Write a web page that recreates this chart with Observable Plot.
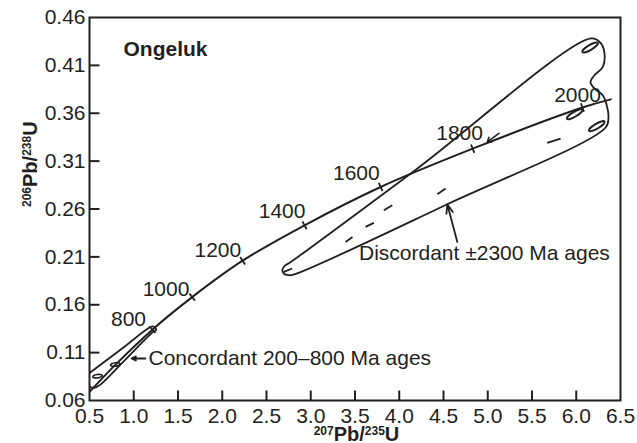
<!DOCTYPE html>
<html>
<head>
<meta charset="utf-8">
<script src="https://cdn.jsdelivr.net/npm/d3@7"></script>
<script src="https://cdn.jsdelivr.net/npm/@observablehq/plot@0.6"></script>
<style>
  html, body { margin: 0; padding: 0; background: #fff; }
</style>
</head>
<body>
<div id="chart"></div>
<script>
// ---------- data ----------
const xTicks = [0.5, 1.0, 1.5, 2.0, 2.5, 3.0, 3.5, 4.0, 4.5, 5.0, 5.5, 6.0, 6.5];
const yTicks = [0.06, 0.11, 0.16, 0.21, 0.26, 0.31, 0.36, 0.41, 0.46];

// concordia curve (Ma, 207Pb/235U, 206Pb/238U)
const concordiaAge = [412, 600, 800, 1000, 1200, 1400, 1600, 1800, 2000, 2040];
const concordiaX   = [0.50, 0.80, 1.21, 1.66, 2.23, 2.93, 3.79, 4.83, 6.07, 6.39];
const concordiaY   = [0.069, 0.098, 0.134, 0.168, 0.206, 0.243, 0.283, 0.323, 0.366, 0.3745];

// age labels along concordia
const ageLabels = [800, 1000, 1200, 1400, 1600, 1800, 2000];
const ageLabelX = [0.941, 1.365, 1.950, 2.676, 3.515, 4.682, 6.014];
const ageLabelY = [0.1444, 0.1757, 0.2164, 0.258, 0.2969, 0.3392, 0.3789];

// concordant 200–800 Ma envelope
const concEnvX = [0.46, 0.50, 0.85, 1.16, 1.21, 1.245, 1.250, 1.22, 0.90, 0.62, 0.57, 0.53, 0.50, 0.46];
const concEnvY = [0.0860, 0.0888, 0.1130, 0.1352, 0.1375, 0.1360, 0.1333, 0.1318, 0.1022, 0.0763, 0.0738, 0.0733, 0.0745, 0.0780];

// discordant ±2300 Ma envelope
const discEnvX = [6.167, 4.165, 2.770, 2.708, 2.680, 2.697, 2.748, 2.804, 4.543, 6.334, 6.364, 6.349, 6.300, 6.206, 6.161, 6.206, 6.300, 6.319, 6.277];
const discEnvY = [0.4381, 0.2995, 0.2044, 0.2008, 0.1966, 0.1924, 0.1909, 0.1914, 0.2650, 0.3454, 0.3562, 0.3666, 0.3788, 0.3858, 0.3927, 0.3997, 0.4084, 0.4224, 0.4332];

// data ellipses
const concEllX = [0.590, 0.791];
const concEllY = [0.0854, 0.0976];
const discEllX = [6.157, 5.983, 6.232];
const discEllY = [0.4287, 0.3590, 0.3465];

// discordia dashes [x1, y1, x2, y2]
const discordiaDashes = [
  [2.695, 0.1943, 2.790, 0.1979],
  [3.393, 0.2256, 3.472, 0.2308],
  [3.619, 0.2413, 3.713, 0.2455],
  [3.826, 0.2587, 3.921, 0.2640],
  [4.430, 0.2755, 4.524, 0.2814],
  [5.672, 0.3290, 5.823, 0.3336]
];
const discordiaHook = [[5.127, 0.3389, 4.996, 0.3301]];

// ---------- layout ----------
const W = 637, H = 443, ML = 89, MR = 17, MT = 17, MB = 43;
const ink = "#231f20";
const kx = (W - ML - MR) / (xTicks[xTicks.length - 1] - xTicks[0]);
const ky = (H - MT - MB) / (yTicks[yTicks.length - 1] - yTicks[0]);

const curve = concordiaX.map((x, i) => ({age: concordiaAge[i], x, y: concordiaY[i]}));
const concEnv = concEnvX.map((x, i) => ({x, y: concEnvY[i]}));
const discEnv = discEnvX.map((x, i) => ({x, y: discEnvY[i]}));
const ageLab = ageLabels.map((t, i) => ({t: String(t), x: ageLabelX[i], y: ageLabelY[i]}));

// custom symbols
function lineSymbol(x1, y1, x2, y2) {
  return {draw(ctx) { ctx.moveTo(x1, y1); ctx.lineTo(x2, y2); }};
}
function ellipseSymbol(rx, ry, deg) {
  const a = deg * Math.PI / 180, c = Math.cos(a), s = Math.sin(a), k = 0.5523;
  const P = ([x, y]) => [x * c - y * s, x * s + y * c];
  const pts = [[rx,0],[rx,ry*k],[rx*k,ry],[0,ry],[-rx*k,ry],[-rx,ry*k],[-rx,0],[-rx,-ry*k],[-rx*k,-ry],[0,-ry],[rx*k,-ry],[rx,-ry*k],[rx,0]].map(P);
  return {draw(ctx) {
    ctx.moveTo(pts[0][0], pts[0][1]);
    for (let i = 1; i < pts.length; i += 3)
      ctx.bezierCurveTo(pts[i][0], pts[i][1], pts[i+1][0], pts[i+1][1], pts[i+2][0], pts[i+2][1]);
    ctx.closePath();
  }};
}

// concordia age ticks (perpendicular to the curve)
const ageTickMarks = ageLabels.map(age => {
  const i = concordiaAge.indexOf(age);
  const p = curve[i], a = curve[i - 1], b = curve[i + 1];
  const ang = Math.atan2(-(b.y - a.y) * ky, (b.x - a.x) * kx) + Math.PI / 2;
  const h = 4.5, dx = Math.cos(ang) * h, dy = Math.sin(ang) * h;
  return Plot.dot([p], {x: "x", y: "y", symbol: lineSymbol(-dx, -dy, dx, dy), fill: "none", stroke: ink, strokeWidth: 1.8});
});

const innerX = xTicks.slice(1, -1);
const innerY = yTicks.slice(1, -1);

const chart = Plot.plot({
  width: W, height: H,
  marginLeft: ML, marginRight: MR, marginTop: MT, marginBottom: MB,
  style: {fontFamily: "'Liberation Sans', Arial, Helvetica, sans-serif", fontSize: "21px", color: ink, background: "#fff"},
  x: {domain: [xTicks[0], xTicks[xTicks.length - 1]], ticks: xTicks, tickFormat: d3.format(".1f"), tickSize: 0, tickPadding: 8, label: null},
  y: {domain: [yTicks[0], yTicks[yTicks.length - 1]], ticks: yTicks, tickFormat: d3.format(".2f"), tickSize: 0, tickPadding: 4, label: null},
  marks: [
    // inward axis ticks
    Plot.dot(innerX, {x: d => d, y: yTicks[0], symbol: lineSymbol(0, 0, 0, -10), fill: "none", stroke: ink, strokeWidth: 2}),
    Plot.dot(innerY, {x: xTicks[0], y: d => d, symbol: lineSymbol(0, 0, 10, 0), fill: "none", stroke: ink, strokeWidth: 2}),
    // envelopes
    Plot.line(concEnv, {x: "x", y: "y", curve: "catmull-rom-closed", stroke: ink, strokeWidth: 1.8, clip: true}),
    Plot.line(discEnv, {x: "x", y: "y", curve: "catmull-rom-closed", stroke: ink, strokeWidth: 1.8, clip: true}),
    // concordia
    Plot.line(curve, {x: "x", y: "y", curve: "catmull-rom", stroke: ink, strokeWidth: 2, clip: true}),
    ...ageTickMarks,
    Plot.text(ageLab, {x: "x", y: "y", text: "t", fill: ink}),
    // discordia dashes
    Plot.link(discordiaDashes, {x1: d => d[0], y1: d => d[1], x2: d => d[2], y2: d => d[3], stroke: ink, strokeWidth: 1.8}),
    Plot.arrow(discordiaHook, {x1: d => d[0], y1: d => d[1], x2: d => d[2], y2: d => d[3], stroke: ink, strokeWidth: 1.6, headLength: 6, headAngle: 70}),
    // data ellipses
    Plot.dot(concEllX.map((x, i) => ({x, y: concEllY[i]})), {x: "x", y: "y", symbol: ellipseSymbol(4.8, 1.7, -8), fill: "none", stroke: ink, strokeWidth: 1.6}),
    Plot.dot(discEllX.map((x, i) => ({x, y: discEllY[i]})), {x: "x", y: "y", symbol: ellipseSymbol(9, 2.4, -31), fill: "none", stroke: ink, strokeWidth: 2}),
    // annotation arrows
    Plot.arrow([[1.130, 0.1039, 0.977, 0.1039]], {x1: d => d[0], y1: d => d[1], x2: d => d[2], y2: d => d[3], stroke: ink, strokeWidth: 2, headLength: 7, headAngle: 50}),
    Plot.arrow([[4.656, 0.2256, 4.543, 0.2650]], {x1: d => d[0], y1: d => d[1], x2: d => d[2], y2: d => d[3], stroke: ink, strokeWidth: 1.8, headLength: 8, headAngle: 40}),
    // annotation texts
    Plot.text(["Concordant 200–800 Ma ages"], {x: 1.167, y: 0.1039, textAnchor: "start", fill: ink}),
    Plot.text(["Discordant ±2300 Ma ages"], {x: 3.545, y: 0.2138, textAnchor: "start", fill: ink}),
    Plot.text(["Ongeluk"], {frameAnchor: "top-left", dx: 34, dy: 24, textAnchor: "start", fontWeight: "bold", fill: ink}),
    // axis titles
    Plot.text(["207Pb/235U"], {frameAnchor: "bottom", dx: 1.5, dy: 40, lineAnchor: "bottom", fontWeight: "bold", fontSize: 20, fill: ink}),
    Plot.text(["206Pb/238U"], {frameAnchor: "left", dx: -59, dy: -2, rotate: -90, fontWeight: "bold", fontSize: 20, fill: ink}),
    Plot.frame({stroke: ink, strokeWidth: 2})
  ]
});

document.getElementById("chart").appendChild(chart);

// superscripts in axis titles
function richTitle(plain, parts) {
  d3.select(chart).selectAll("text").filter(function () { return this.textContent === plain; }).each(function () {
    const t = d3.select(this);
    t.text(null);
    let raised = false;
    parts.forEach(([s, sup]) => {
      const ts = t.append("tspan").text(s);
      if (sup && !raised) { ts.attr("dy", -6).attr("font-size", 12); raised = true; }
      else if (sup) { ts.attr("font-size", 12); }
      else if (raised) { ts.attr("dy", 6); raised = false; }
    });
  });
}
richTitle("207Pb/235U", [["207", true], ["Pb/", false], ["235", true], ["U", false]]);
richTitle("206Pb/238U", [["206", true], ["Pb/", false], ["238", true], ["U", false]]);
</script>
</body>
</html>
